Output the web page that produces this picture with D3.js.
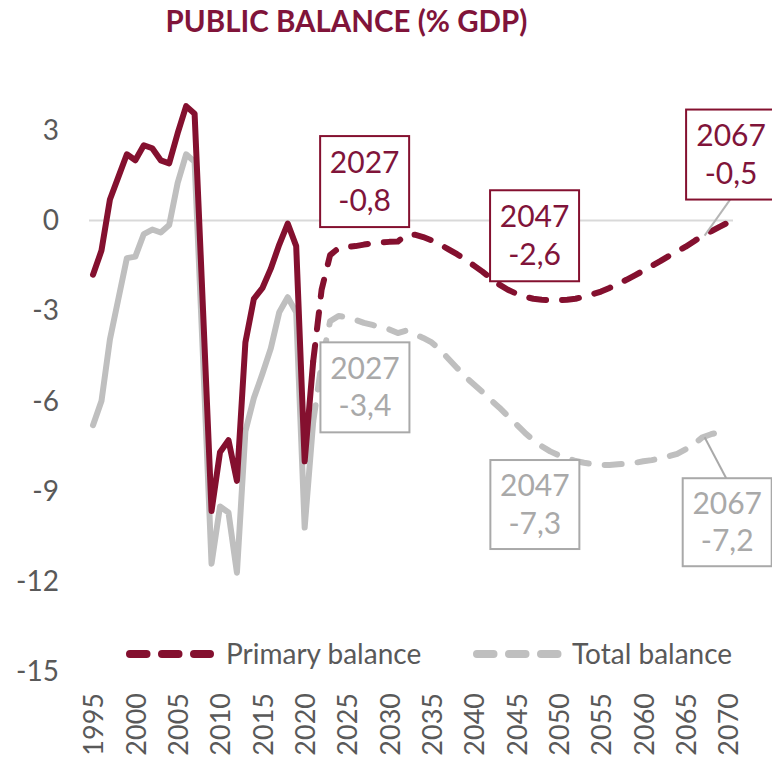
<!DOCTYPE html>
<html>
<head>
<meta charset="utf-8">
<script src="https://cdn.jsdelivr.net/npm/d3@7"></script>
<style>
  html, body { margin: 0; padding: 0; background: #fff; }
  svg { display: block; font-family: Lato, "Open Sans", sans-serif; }
</style>
</head>
<body>
<svg id="chart" width="772" height="758"></svg>
<script>
// ---- Data ---------------------------------------------------------------
// Outturn years (solid) and projection years (dashed); 2021 is shared so the two pieces join.
const histYears = d3.range(1995, 2022);
const projYears = d3.range(2021, 2071);

const primaryHist = [
  -1.8, -1.0, 0.7, 1.45, 2.2, 2.0, 2.5, 2.4, 2.0, 1.9,
  2.9, 3.8, 3.55, -3.0, -9.65, -7.7, -7.3, -8.65, -4.05, -2.6,
  -2.25, -1.6, -0.8, -0.1, -0.85, -8.0, -4.7
];
const totalHist = [
  -6.8, -6.0, -3.95, -2.6, -1.25, -1.2, -0.45, -0.3, -0.4, -0.15,
  1.25, 2.2, 1.95, -4.6, -11.4, -9.5, -9.7, -11.7, -7.0, -5.9,
  -5.1, -4.25, -3.05, -2.55, -3.05, -10.2, -6.7
];
const primaryProj = [
  -4.7, -2.3, -1.15, -0.92, -0.88, -0.85, -0.8, -0.76, -0.73, -0.71,
  -0.7, -0.48, -0.47, -0.55, -0.66, -0.8, -0.96, -1.12, -1.3, -1.5,
  -1.7, -1.92, -2.13, -2.3, -2.43, -2.53, -2.6, -2.63, -2.65, -2.65,
  -2.63, -2.6, -2.53, -2.45, -2.36, -2.24, -2.11, -1.97, -1.82, -1.67,
  -1.51, -1.35, -1.18, -1.02, -0.87, -0.69, -0.5, -0.36, -0.21, -0.07
];
const totalProj = [
  -6.7, -4.75, -3.35, -3.17, -3.22, -3.3, -3.4, -3.47, -3.54, -3.62,
  -3.74, -3.66, -3.78, -3.9, -4.05, -4.3, -4.6, -4.9, -5.2, -5.45,
  -5.7, -5.97, -6.22, -6.5, -6.77, -7.05, -7.3, -7.5, -7.67, -7.8,
  -7.9, -7.99, -8.05, -8.09, -8.12, -8.12, -8.1, -8.08, -8.05, -8.0,
  -7.96, -7.9, -7.83, -7.75, -7.6, -7.42, -7.2, -7.1, -7.03, -6.96
];

const yTicks = [3, 0, -3, -6, -9, -12, -15];
const xTicks = [1995, 2000, 2005, 2010, 2015, 2020, 2025, 2030, 2035,
                2040, 2045, 2050, 2055, 2060, 2065, 2070];

const titleText = "PUBLIC BALANCE (% GDP)";
const legendLabels = ["Primary balance", "Total balance"];

// Call-out boxes: which series and year to annotate.
const callouts = [
  { series: "primary", year: 2027 },
  { series: "primary", year: 2047 },
  { series: "primary", year: 2067 },
  { series: "total",   year: 2027 },
  { series: "total",   year: 2047 },
  { series: "total",   year: 2067 }
];

// ---- Styles & layout ----------------------------------------------------
const RED = "#84102f";
const RED_TEXT = "#80143a";
const GREY = "#bfbfbf";
const GREY_BOX = "#a9a9a9";
const AXIS_TEXT = "#595959";

const svg = d3.select("#chart");

const allYears = d3.range(1995, 2071);
const x = d3.scalePoint().domain(allYears).range([93, 728]);
const y = d3.scaleLinear().domain([-15, 3]).range([672, 130.2]);

// Title
svg.append("text")
  .attr("x", 346.5).attr("y", 32)
  .attr("text-anchor", "middle")
  .attr("font-size", 29.5).attr("font-weight", 700)
  .attr("fill", RED_TEXT)
  .text(titleText);

// Zero line
svg.append("line")
  .attr("x1", 89).attr("x2", 733)
  .attr("y1", y(0)).attr("y2", y(0))
  .attr("stroke", "#d9d9d9").attr("stroke-width", 2);

// Y axis
const yAxis = svg.append("g")
  .attr("transform", "translate(62,0)")
  .call(d3.axisLeft(y).tickValues(yTicks).tickSize(0).tickPadding(3)
        .tickFormat(d => String(d)));
yAxis.select(".domain").remove();
yAxis.selectAll("text")
  .attr("font-family", "Lato, sans-serif")
  .attr("font-size", 28).attr("fill", AXIS_TEXT);

// X axis with vertical year labels
const xAxis = svg.append("g")
  .attr("transform", "translate(0,693)")
  .call(d3.axisBottom(x).tickValues(xTicks).tickSize(0).tickFormat(d => String(d)));
xAxis.select(".domain").remove();
xAxis.selectAll("text")
  .attr("font-family", "Lato, sans-serif")
  .attr("font-size", 27).attr("fill", AXIS_TEXT)
  .attr("transform", "rotate(-90)")
  .attr("x", 0).attr("y", 0).attr("dy", "0.36em")
  .attr("text-anchor", "end");

// Lines
const line = d3.line().x(d => x(d[0])).y(d => y(d[1]));
const pairs = (yrs, vals) => yrs.map((yr, i) => [yr, vals[i]]);

const lines = svg.append("g").attr("fill", "none")
  .attr("stroke-linejoin", "round").attr("stroke-width", 6);

lines.append("path").datum(pairs(histYears, totalHist))
  .attr("d", line).attr("stroke", GREY).attr("stroke-linecap", "round");
lines.append("path").datum(pairs(projYears, totalProj))
  .attr("d", line).attr("stroke", GREY)
  .attr("stroke-linecap", "round").attr("stroke-dasharray", "17 16");
lines.append("path").datum(pairs(histYears, primaryHist))
  .attr("d", line).attr("stroke", RED).attr("stroke-linecap", "round");
lines.append("path").datum(pairs(projYears, primaryProj))
  .attr("d", line).attr("stroke", RED)
  .attr("stroke-linecap", "round").attr("stroke-dasharray", "17 16");

// Call-outs
const fmt = d3.formatLocale({ decimal: ",", thousands: ".", grouping: [3],
                              currency: ["", ""], minus: "-" }).format(".1f");
const seriesValue = {
  primary: yr => primaryProj[projYears.indexOf(yr)],
  total:   yr => totalProj[projYears.indexOf(yr)]
};
const boxLayout = {
  "primary-2027": { dx: 0.7,  dy: -63,  w: 89, h: 91, leader: false },
  "primary-2047": { dx: 1.3,  dy: -63,  w: 89, h: 91, leader: false },
  "primary-2067": { dx: 28.5, dy: -81,  w: 90, h: 90, leader: true },
  "total-2027":   { dx: 1,    dy: 64.5, w: 89, h: 90, leader: false },
  "total-2047":   { dx: 1.6,  dy: 64.3, w: 89, h: 89, leader: false },
  "total-2067":   { dx: 24.6, dy: 85,   w: 89, h: 88, leader: true }
};

const boxes = svg.append("g");
callouts.forEach(c => {
  const v = seriesValue[c.series](c.year);
  const px = x(c.year), py = y(v);
  const L = boxLayout[c.series + "-" + c.year];
  const cx = px + L.dx, cy = py + L.dy;
  const stroke = c.series === "primary" ? RED : GREY_BOX;
  const textFill = c.series === "primary" ? RED_TEXT : GREY_BOX;
  if (L.leader) {
    const edgeY = L.dy < 0 ? cy + L.h / 2 : cy - L.h / 2;
    boxes.append("line")
      .attr("x1", px + 2).attr("y1", py)
      .attr("x2", cx - 1).attr("y2", edgeY)
      .attr("stroke", c.series === "primary" ? "#b5b5b5" : GREY_BOX)
      .attr("stroke-width", 2);
  }
  boxes.append("rect")
    .attr("x", cx - L.w / 2).attr("y", cy - L.h / 2)
    .attr("width", L.w).attr("height", L.h)
    .attr("fill", "#fff").attr("stroke", stroke).attr("stroke-width", 2);
  boxes.append("text")
    .attr("x", cx).attr("y", cy - 8.5)
    .attr("text-anchor", "middle").attr("font-size", 30).attr("fill", textFill)
    .text(c.year);
  boxes.append("text")
    .attr("x", cx).attr("y", cy + 29)
    .attr("text-anchor", "middle").attr("font-size", 30).attr("fill", textFill)
    .text(fmt(v));
});

// Legend
const legend = svg.append("g");
const legendItems = [
  { label: legendLabels[0], color: RED,  x1: 130, x2: 210, tx: 226 },
  { label: legendLabels[1], color: GREY, x1: 477, x2: 558, tx: 572 }
];
legendItems.forEach(it => {
  legend.append("line")
    .attr("x1", it.x1).attr("x2", it.x2).attr("y1", 654).attr("y2", 654)
    .attr("stroke", it.color).attr("stroke-width", 8)
    .attr("stroke-linecap", "round").attr("stroke-dasharray", "16.5 15.5");
  legend.append("text")
    .attr("x", it.tx).attr("y", 654).attr("dy", "0.36em")
    .attr("font-size", 28).attr("fill", AXIS_TEXT)
    .text(it.label);
});
</script>
</body>
</html>
